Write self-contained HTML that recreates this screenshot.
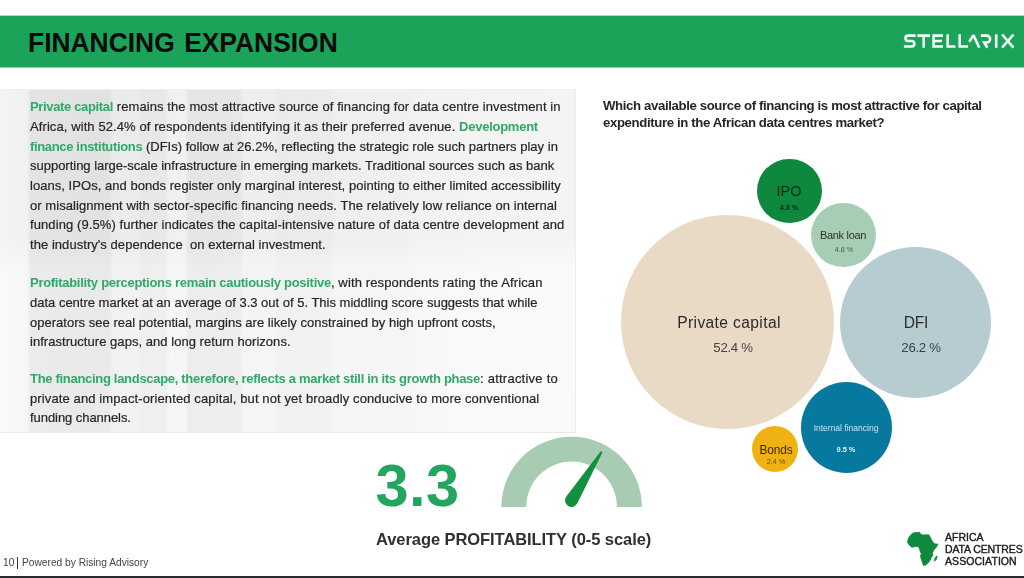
<!DOCTYPE html>
<html>
<head>
<meta charset="utf-8">
<title>Financing Expansion</title>
<style>
html,body{margin:0;padding:0;}
body{width:1024px;height:578px;position:relative;overflow:hidden;background:#fff;font-family:"Liberation Sans",sans-serif;color:#262626;}
.abs{position:absolute;}
#text,#q,#foot,#foot2,.ad,.bl,#avg{will-change:transform;}
#hdr{left:0;top:15px;width:1024px;height:53px;background:linear-gradient(#a6dbbe 0px,#a6dbbe 1px,#1ba35a 1px,#1ba35a 52px,#9ccdb3 52px,#9ccdb3 53px);}
#title{left:28.0px;top:26.5px;font-weight:bold;font-size:27.6px;line-height:32px;color:#0b0b0b;white-space:nowrap;transform:scaleX(0.957);transform-origin:0 50%;word-spacing:2.2px;}
#panel{left:0;top:89px;width:576px;height:344px;overflow:hidden;box-sizing:border-box;border-top:1px solid #efefef;border-right:1px solid #eee;border-bottom:1px solid #e9e9e9;
background:linear-gradient(180deg,rgba(0,0,0,0.018) 0px,rgba(0,0,0,0.018) 150px,rgba(255,255,255,0.12) 178px,rgba(255,255,255,0.15) 344px),linear-gradient(90deg,#f8f8f8 0px,#f6f6f6 27px,#e8e8e8 31px,#e6e6e6 108px,#f0f0f0 114px,#f0f0f0 138px,#ececec 142px,#ededed 166px,#f5f5f5 169px,#f5f5f5 185px,#eaeaea 188px,#ebebeb 240px,#f3f3f3 244px,#f3f3f3 274px,#efefef 278px,#f0f0f0 330px,#f4f4f4 336px,#f4f4f4 400px,#f7f7f7 420px,#f9f9f9 576px);}
.ln{position:absolute;left:30px;white-space:nowrap;font-size:13px;line-height:20px;height:20px;color:#262626;-webkit-text-stroke:0.2px;}
.g{color:#32a868;font-weight:bold;-webkit-text-stroke:0;}
#q{left:602.5px;top:98.3px;font-size:13.2px;line-height:16.6px;font-weight:bold;color:#262626;white-space:nowrap;letter-spacing:-0.37px;}
.bub{position:absolute;border-radius:50%;}
.bl{position:absolute;white-space:nowrap;text-align:center;transform:translateX(-50%);line-height:1;color:#222;}
#big{left:375.6px;top:450.5px;font-size:59.6px;line-height:70px;font-weight:bold;color:#22a55e;white-space:nowrap;letter-spacing:0.3px;}
#avg{left:376.3px;top:528px;font-size:16.5px;line-height:22px;font-weight:bold;color:#303030;white-space:nowrap;letter-spacing:-0.07px;}
#foot{left:2.6px;top:556px;font-size:10.2px;line-height:14px;color:#3c3c3c;white-space:nowrap;}
#foot2{left:21.6px;top:556px;font-size:10.2px;line-height:14px;color:#444;white-space:nowrap;letter-spacing:0.0px;}
#footbar{left:16.8px;top:556.6px;width:1px;height:12.6px;background:#333;}
#botbar{left:0;top:576px;width:1024px;height:2px;background:#2a2a2e;}
.ad{position:absolute;left:944.8px;font-size:10.5px;line-height:12px;color:#1c1c1c;white-space:nowrap;-webkit-text-stroke:0.4px #1c1c1c;}
</style>
</head>
<body>
<div id="hdr" class="abs"></div>
<div id="title" class="abs">FINANCING EXPANSION</div>

<svg class="abs" style="left:896px;top:28px" width="128" height="28" viewBox="896 28 128 28" fill="none" stroke="#f2fff8" stroke-width="2.6" stroke-linejoin="miter" stroke-miterlimit="10">
<path d="M915.6 35.6 H908.2 A2.72 2.72 0 0 0 908.2 41.05 H911.6 A2.72 2.72 0 0 1 911.6 46.5 H903.9"/>
<path d="M917.3 35.6 H929.9 M923.7 35.6 V47.8"/>
<path d="M943 35.6 H933.6 V46.5 H943 M933.6 41.05 H942"/>
<path d="M947.7 34.3 V46.5 H955.5"/>
<path d="M959.7 34.3 V46.5 H968"/>
<path d="M969.2 41.7 L973.5 35.3 L979.3 47.8" stroke-linejoin="bevel"/>
<path d="M980.8 35.6 H986.6 A3.5 3.5 0 0 1 986.6 42.6 H984.2 L987.4 47.8"/>
<path d="M996.2 34.3 V47.8"/>
<path d="M1002.1 34.5 L1013.5 47.7 M1013.5 34.5 L1002.1 47.7"/>
</svg>

<div id="panel" class="abs"></div>

<div id="text">
<div class="ln" style="top:97.10px"><span class="g" style="letter-spacing:-0.344px">Private capital</span><span style="letter-spacing:0.097px"> remains the most attractive source of financing for data centre investment in</span></div>
<div class="ln" style="top:116.95px"><span style="letter-spacing:0.093px">Africa, with 52.4% of respondents identifying it as their preferred avenue. </span><span class="g" style="letter-spacing:-0.258px">Development</span></div>
<div class="ln" style="top:136.60px"><span class="g" style="letter-spacing:-0.344px">finance institutions</span><span style="letter-spacing:0.011px"> (DFIs) follow at 26.2%, reflecting the strategic role such partners play in</span></div>
<div class="ln" style="top:156.25px"><span style="letter-spacing:-0.013px">supporting large-scale infrastructure in emerging markets. Traditional sources such as bank</span></div>
<div class="ln" style="top:175.90px"><span style="letter-spacing:0.043px">loans, IPOs, and bonds register only marginal interest, pointing to either limited accessibility</span></div>
<div class="ln" style="top:195.55px"><span style="letter-spacing:0.067px">or misalignment with sector-specific financing needs. The relatively low reliance on internal</span></div>
<div class="ln" style="top:215.20px"><span style="letter-spacing:0.090px">funding (9.5%) further indicates the capital-intensive nature of data centre development and</span></div>
<div class="ln" style="top:234.85px"><span style="letter-spacing:0.052px">the industry&#x27;s dependence&nbsp; on external investment.</span></div>
<div class="ln" style="top:273.40px"><span class="g" style="letter-spacing:-0.285px">Profitability perceptions remain cautiously positive</span><span style="letter-spacing:0.135px">, with respondents rating the African</span></div>
<div class="ln" style="top:293.10px"><span style="letter-spacing:-0.004px">data centre market at an average of 3.3 out of 5. This middling score suggests that while</span></div>
<div class="ln" style="top:312.80px"><span style="letter-spacing:0.020px">operators see real potential, margins are likely constrained by high upfront costs,</span></div>
<div class="ln" style="top:332.40px"><span style="letter-spacing:0.041px">infrastructure gaps, and long return horizons.</span></div>
<div class="ln" style="top:369.00px"><span class="g" style="letter-spacing:-0.303px">The financing landscape, therefore, reflects a market still in its growth phase</span><span style="letter-spacing:0.239px">: attractive to</span></div>
<div class="ln" style="top:388.70px"><span style="letter-spacing:0.115px">private and impact-oriented capital, but not yet broadly conducive to more conventional</span></div>
<div class="ln" style="top:408.30px"><span style="letter-spacing:-0.060px">funding channels.</span></div>
</div>

<div id="q" class="abs">Which available source of financing is most attractive for capital<br>expenditure in the African data centres market?</div>

<div id="bubbles">
<div class="bub" style="left:621.1px;top:215.4px;width:213.4px;height:213.4px;background:#e9dac6"></div>
<div class="bub" style="left:840.1px;top:246.5px;width:151.0px;height:151.0px;background:#b6ccd1"></div>
<div class="bub" style="left:757.2px;top:158.6px;width:64.5px;height:64.5px;background:#0d883d"></div>
<div class="bub" style="left:811.4px;top:202.9px;width:64.6px;height:64.6px;background:#a8cdb5"></div>
<div class="bub" style="left:800.5px;top:381.9px;width:91.2px;height:91.2px;background:#08799e"></div>
<div class="bub" style="left:752.4px;top:426.0px;width:46.0px;height:46.0px;background:#f0b212"></div>
<div class="bl" style="left:789.4px;top:183.81px;font-size:14.4px;color:#0b2b17;letter-spacing:0.00px;">IPO</div>
<div class="bl" style="left:788.9px;top:203.72px;font-size:7.3px;color:#0b2b17;letter-spacing:0.00px;font-weight:bold;">4.8 %</div>
<div class="bl" style="left:843.4px;top:229.69px;font-size:11.0px;color:#2a352e;letter-spacing:-0.30px;">Bank loan</div>
<div class="bl" style="left:843.9px;top:245.51px;font-size:7.2px;color:#4a5a50;letter-spacing:0.00px;">4.8 %</div>
<div class="bl" style="left:728.5px;top:314.79px;font-size:15.6px;color:#2b2b2b;letter-spacing:0.38px;">Private capital</div>
<div class="bl" style="left:732.5px;top:340.83px;font-size:13.2px;color:#444;letter-spacing:-0.30px;">52.4 %</div>
<div class="bl" style="left:915.9px;top:314.69px;font-size:15.6px;color:#2b2b2b;letter-spacing:-0.20px;">DFI</div>
<div class="bl" style="left:920.8px;top:340.93px;font-size:13.2px;color:#3a4347;letter-spacing:-0.30px;">26.2 %</div>
<div class="bl" style="left:846.3px;top:423.80px;font-size:8.5px;color:#bfe3ef;letter-spacing:0.00px;">Internal financing</div>
<div class="bl" style="left:845.5px;top:445.64px;font-size:7.4px;color:#dff3fa;letter-spacing:0.00px;font-weight:bold;">9.5 %</div>
<div class="bl" style="left:775.9px;top:445.1px;font-size:11.9px;color:#3d2c00;letter-spacing:-0.10px;">Bonds</div>
<div class="bl" style="left:775.7px;top:458.2px;font-size:7.3px;color:#6a4d00;letter-spacing:0.00px;">2.4 %</div>
</div>

<div id="big" class="abs">3.3</div>
<svg class="abs" style="left:490px;top:430px" width="170" height="90" viewBox="490 430 170 90">
<path d="M501.3 506.9 A70.3 70.3 0 0 1 641.9 506.9 L616.9 506.9 A45.3 45.3 0 0 0 526.3 506.9 Z" fill="#a8ccb1"/>
<path d="M577.33 503.28 L602.19 452.89 A1.10 1.10 0 0 0 600.32 451.73 L566.33 496.47 A6.50 6.50 0 1 0 577.33 503.28 Z" fill="#12903f"/>
</svg>
<div id="avg" class="abs">Average PROFITABILITY (0-5 scale)</div>

<div id="foot" class="abs">10</div><div id="footbar" class="abs"></div><div id="foot2" class="abs">Powered by Rising Advisory</div>
<svg class="abs" style="left:900px;top:526px" width="46" height="46" viewBox="900 526 46 46">
<path d="M912.17 533.45 L913.99 532.80 L916.53 532.51 L919.81 532.36 L920.17 533.81 L921.99 534.69 L923.80 535.12 L926.35 534.69 L928.89 534.90 L929.98 536.72 L931.43 539.63 L933.25 542.53 L934.34 543.84 L937.97 544.13 L936.52 546.90 L933.98 549.80 L932.52 552.71 L932.89 555.25 L931.43 557.07 L930.34 559.98 L927.80 563.25 L925.26 565.21 L923.44 565.43 L922.35 562.16 L921.04 558.52 L920.53 555.98 L921.26 553.44 L919.81 550.53 L919.44 548.35 L918.35 546.75 L915.44 546.53 L911.81 547.26 L909.63 545.44 L907.45 542.53 L908.18 538.90 L909.63 536.36 Z" fill="#0d8a3b" stroke="#0d8a3b" stroke-width="0.8" stroke-linejoin="round"/>
<path d="M936.74 555.83 L937.32 557.07 L936.16 559.98 L934.70 561.28 L934.12 560.34 L935.07 557.80 Z" fill="#0d8a3b" stroke="#0d8a3b" stroke-width="0.5" stroke-linejoin="round"/>
</svg>
<div class="ad" style="top:531.06px">AFRICA</div>
<div class="ad" style="top:542.86px;letter-spacing:-0.12px">DATA CENTRES</div>
<div class="ad" style="top:554.86px;letter-spacing:0.07px">ASSOCIATION</div>
<div id="botbar" class="abs"></div>
</body>
</html>
